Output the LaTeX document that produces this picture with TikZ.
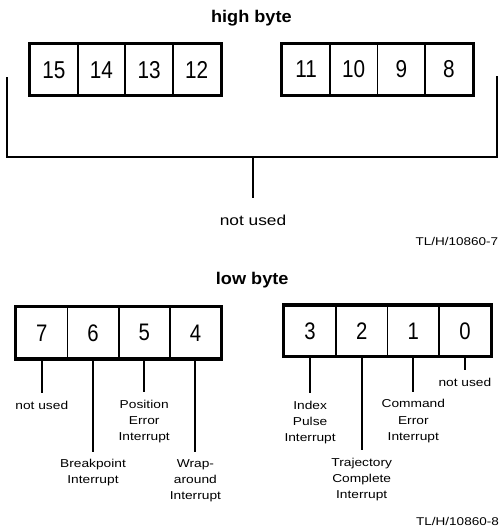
\documentclass[tikz,border=0pt]{standalone}
\usepackage{fontspec}
\setmainfont{Liberation Sans}
\newfontfamily\digitfont[FakeStretch=0.85]{Liberation Sans}
\newfontfamily\titlefont[FakeStretch=1.07]{Liberation Sans}
\newfontfamily\labelfont[FakeStretch=1.2]{Liberation Sans}
\begin{document}
\begin{tikzpicture}[x=1bp,y=-1bp,
  hcell/.style={draw,line width=1.8bp,minimum width=47.6bp,minimum height=50.5bp,inner sep=0pt,
    font=\digitfont\fontsize{24.5}{24.5}\selectfont},
  lcell/.style={draw,line width=1.8bp,minimum width=51.2bp,minimum height=51bp,inner sep=0pt,
    font=\digitfont\fontsize{24}{24}\selectfont},
  group/.style={draw,line width=3bp},
  conn/.style={draw,line width=2bp},
  lbl/.style={align=center,inner xsep=0pt,inner ysep=7.5bp,anchor=north,
    font=\labelfont\fontsize{11.5}{16.5}\selectfont},
  title/.style={anchor=base,inner sep=0pt,font=\titlefont\bfseries\fontsize{17}{17}\selectfont},
  tlcode/.style={anchor=base east,inner sep=0pt,font=\labelfont\fontsize{11.3}{11.3}\selectfont}
]
\useasboundingbox (0,0) rectangle (499,527);

% ---------- high byte ----------
\node[title] (hb) at (251.4,22.7) {high byte};
\node[hcell] (c15) at (53.85,69.75) {15};
\node[hcell] (c14) at (101.45,69.75) {14};
\node[hcell] (c13) at (149.05,69.75) {13};
\node[hcell] (c12) at (196.65,69.75) {12};
\draw[group] (c15.north west) rectangle (c12.south east);
\node[hcell] (c11) at (306.1,69.3) {11};
\node[hcell] (c10) at (353.7,69.3) {10};
\node[hcell] (c9) at (401.3,69.3) {9};
\node[hcell] (c8) at (448.9,69.3) {8};
\draw[group] (c11.north west) rectangle (c8.south east);

\coordinate (bl) at (7,77.5);
\coordinate (br) at (497,76);
\coordinate (bm) at (253,157);
\draw[conn] (bl) |- (bm) -| (br);
\node[lbl,inner ysep=16.5bp,font=\labelfont\fontsize{14.5}{16}\selectfont] (nu) at (253,198) {not used};
\draw[conn] (bm) -- (nu.north);
\node[tlcode] (tl7) at (498.3,245.7) {TL/H/10860-7};

% ---------- low byte ----------
\node[title] (lb) at (252.2,284.3) {low byte};
\node[lcell] (c7) at (41.8,332.8) {7};
\node[lcell] (c6) at (93,332.8) {6};
\node[lcell] (c5) at (144.2,332.8) {5};
\node[lcell] (c4) at (195.4,332.8) {4};
\draw[group] (c7.north west) rectangle (c4.south east);
\node[lcell,minimum width=51.6bp,minimum height=50.3bp] (c3) at (310.1,330.9) {3};
\node[lcell,minimum width=51.6bp,minimum height=50.3bp] (c2) at (361.7,330.9) {2};
\node[lcell,minimum width=51.6bp,minimum height=50.3bp] (c1) at (413.3,330.9) {1};
\node[lcell,minimum width=51.6bp,minimum height=50.3bp] (c0) at (464.9,330.9) {0};
\draw[group] (c3.north west) rectangle (c0.south east);

\node[lbl] (l7) at (41.8,393) {not used};
\node[lbl] (l6) at (93,451.5) {Breakpoint\\Interrupt};
\node[lbl] (l5) at (144.2,392) {Position\\Error\\Interrupt};
\node[lbl] (l4) at (195.4,451.5) {Wrap-\\around\\Interrupt};
\node[lbl] (l3) at (310.1,393) {Index\\Pulse\\Interrupt};
\node[lbl] (l2) at (361.7,450) {Trajectory\\Complete\\Interrupt};
\node[lbl] (l1) at (413.3,391.7) {Command\\Error\\Interrupt};
\node[lbl] (l0) at (464.9,370) {not used};
\foreach \b in {7,6,5,4,3,2,1,0}{
  \draw[conn] (c\b.south) -- (l\b.north);
}
\node[tlcode] (tl8) at (499,525) {TL/H/10860-8};
\end{tikzpicture}
\end{document}
